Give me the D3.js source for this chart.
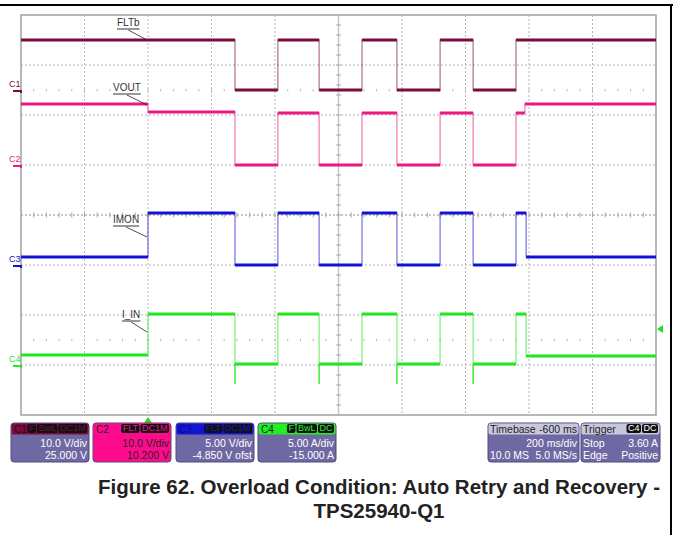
<!DOCTYPE html>
<html>
<head>
<meta charset="utf-8">
<script src="https://cdn.jsdelivr.net/npm/d3@7"></script>
<style>
  body { margin: 0; background: #fff; }
  svg { display: block; font-family: "Liberation Sans", Arial, sans-serif; }
</style>
</head>
<body>
<div id="plot"></div>
<script>
// ---- data (time in ms, trigger at 0) ----
var timeDomain = [-400, 1600];

var fltbTimes = [-400, 274, 409, 539, 674, 784, 920, 1024, 1159, 1600];
var fltbVolts = [10, 0, 10, 0, 10, 0, 10, 0, 10, 10];

var voutTimes = [-400, 0, 274, 409, 539, 674, 784, 920, 1024, 1159, 1187, 1600];
var voutVolts = [12.2, 10.6, 0, 10.4, 0, 10.4, 0, 10.4, 0, 10.4, 12.2, 12.2];

var imonTimes = [-400, 0, 274, 409, 539, 674, 784, 920, 1024, 1159, 1191, 1600];
var imonVolts = [0.8, 5.2, 0, 5.2, 0, 5.2, 0, 5.2, 0, 5.2, 0.8, 0.8];

var iinTimes = [-400, 0, 274, 409, 539, 674, 784, 920, 1024, 1159, 1191, 1600];
var iinAmps = [1.0, 5.1, 0.1, 5.1, 0.1, 5.1, 0.1, 5.1, 0.1, 5.1, 0.9, 0.9];
var iinSpikeTimes = [274, 539, 784, 1024];
var iinSpikeMin = -1.9;

var triggerLevel = 3.6;

var channelLabels = ["C1", "C2", "C3", "C4"];
var traceNames = ["FLTb", "VOUT", "IMON", "I_IN"];
var voltsPerDiv = [10, 10, 5, 5];
var groundDiv = [2.5, 1, -1, -3];      // trace zero position, in divisions from centre
var colors = ["#7a0c3e", "#ec1780", "#1212d6", "#1ee81e"];
var tagColors = ["#7a0c3e", "#ff0a8c", "#1414d8", "#20f020"];

var infoRows = [["10.0 V/div", "25.000 V"], ["10.0 V/div", "10.200 V"],
                ["5.00 V/div", "-4.850 V ofst"], ["5.00 A/div", "-15.000 A"]];
var infoTags = [["F", "BwL", "DC1M"], ["FLT", "DC1M"], ["FLT", "DC1M"], ["F", "BwL", "DC"]];

// ---- workspace ----
var svgWidth = 673, svgHeight = 535;
var plot = { left: 21, right: 656, top: 15, bottom: 415 };

var svg = d3.select("#plot").append("svg")
    .attr("width", svgWidth)
    .attr("height", svgHeight);

// outer figure frame
svg.append("line").attr("x1", 0).attr("x2", 673).attr("y1", 5).attr("y2", 5)
    .attr("stroke", "#000").attr("stroke-width", 2);
svg.append("line").attr("x1", 671).attr("x2", 671).attr("y1", 5).attr("y2", 535)
    .attr("stroke", "#000").attr("stroke-width", 2);

// ---- scales ----
var xScale = d3.scaleLinear().domain(timeDomain).range([plot.left, plot.right]);
var divScale = d3.scaleLinear().domain([-4, 4]).range([plot.bottom, plot.top]);

function yFor(ch) {
    return function (v) { return divScale(groundDiv[ch] + v / voltsPerDiv[ch]); };
}

// ---- graticule ----
var grid = svg.append("g");
var xDiv = d3.range(1, 10).map(i => plot.left + i * (plot.right - plot.left) / 10);
var yDiv = d3.range(-3, 4).map(d => divScale(d));

grid.selectAll(".vg").data(xDiv).enter().append("line")
    .attr("x1", d => d).attr("x2", d => d)
    .attr("y1", plot.top).attr("y2", plot.bottom)
    .attr("stroke", "#b4b4b4").attr("stroke-dasharray", "2,2");
grid.selectAll(".hg").data(yDiv).enter().append("line")
    .attr("x1", plot.left).attr("x2", plot.right)
    .attr("y1", d => d).attr("y2", d => d)
    .attr("stroke", "#b4b4b4").attr("stroke-dasharray", "2,2");

// centre axes with minor ticks
var cx = (plot.left + plot.right) / 2, cy = divScale(0);
grid.append("line").attr("x1", cx).attr("x2", cx).attr("y1", plot.top).attr("y2", plot.bottom)
    .attr("stroke", "#c8c8c8").attr("stroke-width", 1.5);
grid.append("line").attr("x1", plot.left).attr("x2", plot.right).attr("y1", cy).attr("y2", cy)
    .attr("stroke", "#b4b4b4").attr("stroke-dasharray", "2,2");
var minorX = d3.range(1, 50).map(i => plot.left + i * (plot.right - plot.left) / 50);
var minorY = d3.range(1, 40).map(i => plot.top + i * (plot.bottom - plot.top) / 40);
grid.selectAll(".mx").data(minorX).enter().append("line")
    .attr("x1", d => d).attr("x2", d => d).attr("y1", cy - 2.5).attr("y2", cy + 2.5)
    .attr("stroke", "#a8a8a8");
grid.selectAll(".my").data(minorY).enter().append("line")
    .attr("x1", cx - 2.5).attr("x2", cx + 2.5).attr("y1", d => d).attr("y2", d => d)
    .attr("stroke", "#a8a8a8");
// faint tick rows
[divScale(2.5), divScale(-2.5)].forEach(function (yy) {
    grid.selectAll(null).data(minorX).enter().append("line")
        .attr("x1", d => d).attr("x2", d => d).attr("y1", yy - 1).attr("y2", yy + 1.5)
        .attr("stroke", "#bdbdbd");
});

svg.append("rect")
    .attr("x", plot.left).attr("y", plot.top)
    .attr("width", plot.right - plot.left).attr("height", plot.bottom - plot.top)
    .attr("fill", "none").attr("stroke", "#a0a0a0").attr("stroke-width", 1.5);

// ---- traces ----
var traceTimes = [fltbTimes, voutTimes, imonTimes, iinTimes];
var traceValues = [fltbVolts, voutVolts, imonVolts, iinAmps];
var traceGroup = svg.append("g");

traceTimes.forEach(function (times, ch) {
    var y = yFor(ch);
    var pts = times.map((t, i) => [t, traceValues[ch][i]]);
    var step = d3.line().x(d => xScale(d[0])).y(d => y(d[1])).curve(d3.curveStepAfter);
    traceGroup.append("path")
        .attr("d", step(pts))
        .attr("fill", "none").attr("stroke", colors[ch])
        .attr("stroke-width", 1.3).attr("stroke-opacity", 0.55);
    var segs = pts.slice(0, -1).map((p, i) => [p[0], pts[i + 1][0], p[1]]);
    traceGroup.selectAll(null).data(segs).enter().append("line")
        .attr("x1", d => xScale(d[0])).attr("x2", d => xScale(d[1]))
        .attr("y1", d => y(d[2])).attr("y2", d => y(d[2]))
        .attr("stroke", colors[ch]).attr("stroke-width", 3);
});

// I_IN negative spikes at turn-off
var y4 = yFor(3);
traceGroup.selectAll(".spike").data(iinSpikeTimes).enter().append("line")
    .attr("x1", d => xScale(d)).attr("x2", d => xScale(d))
    .attr("y1", y4(0.1)).attr("y2", y4(iinSpikeMin))
    .attr("stroke", colors[3]).attr("stroke-width", 1.3);

// ---- channel ground markers ----
channelLabels.forEach(function (c, ch) {
    var g0 = yFor(ch)(0);
    svg.append("text").attr("x", 9).attr("y", g0 - 3)
        .attr("font-size", 9).attr("fill", colors[ch]).text(c);
    svg.append("path")
        .attr("d", `M13,${g0 + 1}L${plot.left},${g0 + 1}L${plot.left},${g0 + 3}`)
        .attr("fill", "none").attr("stroke", colors[ch]).attr("stroke-width", 2);
});

// trigger markers
var trigX = xScale(0);
svg.append("path").attr("d", `M${trigX},417L${trigX - 4},423L${trigX + 4},423Z`).attr("fill", "#22dd22");
var trigY = y4(triggerLevel);
svg.append("path").attr("d", `M657,${trigY}L663,${trigY - 4}L663,${trigY + 4}Z`).attr("fill", "#22dd22");

// ---- trace name annotations ----
var labelPos = [[117, 26], [113, 91], [113, 223], [122, 318]];
traceNames.forEach(function (name, ch) {
    var lx = labelPos[ch][0], ly = labelPos[ch][1];
    var t = svg.append("text").attr("x", lx).attr("y", ly)
        .attr("font-size", 10).attr("fill", "#333").text(name);
    var w = t.node().getComputedTextLength();
    svg.append("line").attr("x1", lx).attr("x2", lx + w).attr("y1", ly + 3).attr("y2", ly + 3)
        .attr("stroke", "#777").attr("stroke-width", 1.5);
    var tx = xScale(0) - 1;
    svg.append("line").attr("x1", lx + w / 2).attr("y1", ly + 4)
        .attr("x2", tx).attr("y2", ly + 14)
        .attr("stroke", "#222").attr("stroke-width", 0.8);
});

// ---- info boxes ----
var boxBody = "#6f69a3";
var boxX = [11, 93, 176, 258], boxW = 78, boxY = 423, boxH = 39;

function tags(g, list, right, y, fill, textFill) {
    var x = right;
    list.slice().reverse().forEach(function (s) {
        var t = g.append("text").attr("y", y + 8).attr("font-size", 9)
            .attr("fill", textFill).text(s);
        var w = t.node().getComputedTextLength() + 4;
        x -= w;
        g.insert("rect", "text").attr("x", x).attr("y", y + 1).attr("width", w - 1).attr("height", 9)
            .attr("rx", 2).attr("fill", fill);
        t.attr("x", x + 1.5);
    });
}

channelLabels.forEach(function (c, ch) {
    var g = svg.append("g");
    var bx = boxX[ch];
    var isC2 = ch === 1;
    g.append("rect").attr("x", bx).attr("y", boxY).attr("width", boxW).attr("height", boxH)
        .attr("rx", 3).attr("fill", isC2 ? tagColors[1] : boxBody)
        .attr("stroke", "#4e4a80").attr("stroke-width", 1);
    g.append("rect").attr("x", bx + 0.5).attr("y", boxY + 0.5).attr("width", boxW - 1).attr("height", 11)
        .attr("rx", 2).attr("fill", tagColors[ch]);
    g.append("text").attr("x", bx + 3).attr("y", boxY + 9.5).attr("font-size", 10)
        .attr("fill", ch === 0 ? "#3a0018" : ch === 2 ? "#0a0a80" : "#222").text(c);
    tags(g, infoTags[ch], bx + boxW - 1, boxY, "#111", tagColors[ch]);
    infoRows[ch].forEach(function (s, i) {
        g.append("text").attr("x", bx + boxW - 2).attr("y", boxY + 23.5 + i * 12)
            .attr("text-anchor", "end").attr("font-size", 10.5)
            .attr("fill", isC2 ? "#222" : "#fff").text(s);
    });
});

// timebase + trigger
var tb = svg.append("g");
tb.append("rect").attr("x", 488).attr("y", boxY).attr("width", 91).attr("height", boxH)
    .attr("rx", 3).attr("fill", boxBody).attr("stroke", "#4e4a80");
tb.append("rect").attr("x", 488.5).attr("y", boxY + 0.5).attr("width", 90).attr("height", 11)
    .attr("rx", 2).attr("fill", "#c9c7dc");
tb.append("text").attr("x", 490).attr("y", boxY + 9.5).attr("font-size", 10.5).attr("fill", "#222").text("Timebase");
tb.append("text").attr("x", 577).attr("y", boxY + 9.5).attr("text-anchor", "end").attr("font-size", 10.5).attr("fill", "#222").text("-600 ms");
tb.append("text").attr("x", 577).attr("y", boxY + 23.5).attr("text-anchor", "end").attr("font-size", 10.5).attr("fill", "#fff").text("200 ms/div");
tb.append("text").attr("x", 490).attr("y", boxY + 35.5).attr("font-size", 10.5).attr("fill", "#fff").text("10.0 MS");
tb.append("text").attr("x", 577).attr("y", boxY + 35.5).attr("text-anchor", "end").attr("font-size", 10.5).attr("fill", "#fff").text("5.0 MS/s");

var tr = svg.append("g");
tr.append("rect").attr("x", 581).attr("y", boxY).attr("width", 79).attr("height", boxH)
    .attr("rx", 3).attr("fill", boxBody).attr("stroke", "#4e4a80");
tr.append("rect").attr("x", 581.5).attr("y", boxY + 0.5).attr("width", 78).attr("height", 11)
    .attr("rx", 2).attr("fill", "#c9c7dc");
tr.append("text").attr("x", 583).attr("y", boxY + 9.5).attr("font-size", 10.5).attr("fill", "#222").text("Trigger");
tags(tr, ["C4", "DC"], 659, boxY, "#111", "#fff");
tr.append("text").attr("x", 583).attr("y", boxY + 23.5).attr("font-size", 10.5).attr("fill", "#fff").text("Stop");
tr.append("text").attr("x", 658).attr("y", boxY + 23.5).attr("text-anchor", "end").attr("font-size", 10.5).attr("fill", "#fff").text("3.60 A");
tr.append("text").attr("x", 583).attr("y", boxY + 35.5).attr("font-size", 10.5).attr("fill", "#fff").text("Edge");
tr.append("text").attr("x", 658).attr("y", boxY + 35.5).attr("text-anchor", "end").attr("font-size", 10.5).attr("fill", "#fff").text("Positive");

// ---- caption ----
svg.append("text").attr("x", 379).attr("y", 494).attr("text-anchor", "middle")
    .attr("font-size", 20.5).attr("font-weight", "bold").attr("fill", "#222")
    .text("Figure 62. Overload Condition: Auto Retry and Recovery -");
svg.append("text").attr("x", 379).attr("y", 518).attr("text-anchor", "middle")
    .attr("font-size", 20.5).attr("font-weight", "bold").attr("fill", "#222")
    .text("TPS25940-Q1");
</script>
</body>
</html>
